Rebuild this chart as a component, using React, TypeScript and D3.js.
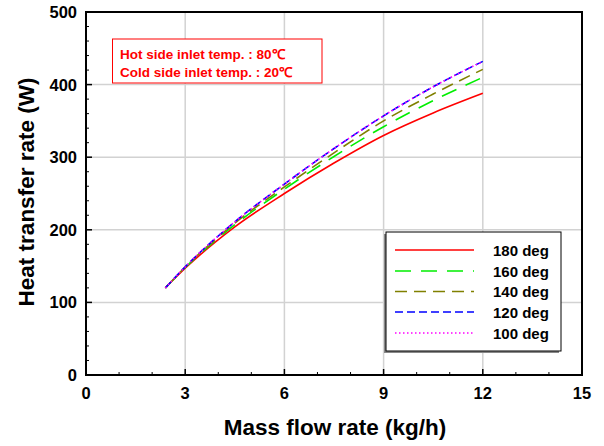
import React from "react";
import * as d3 from "d3";

const xValues = [2.4, 3, 4.5, 6, 7.5, 9, 10.5, 12];
const s180 = [120, 147, 204, 250, 292, 330, 361, 388];
const s160 = [120, 148, 207, 256, 301, 342, 378, 410];
const s140 = [120, 148.5, 209, 259, 306, 350, 387, 421];
const s120 = [120, 149, 211, 263, 312, 357, 397, 432];
const s100 = [120, 149, 211, 263, 312, 357, 397, 432];
const seriesNames = ["180 deg", "160 deg", "140 deg", "120 deg", "100 deg"];
const xTicks = [0, 3, 6, 9, 12, 15];
const yTicks = [0, 100, 200, 300, 400, 500];
const noteLines = ["Hot side inlet temp. : 80\u2103", "Cold side inlet temp. : 20\u2103"];

const styles = [
  { color: "#ff0000", dash: "none", w: 1.6 },
  { color: "#00ee00", dash: "16,10", w: 1.6 },
  { color: "#808000", dash: "12,7", w: 1.6 },
  { color: "#0000ff", dash: "8,4", w: 1.6 },
  { color: "#ff00ff", dash: "1.5,2.5", w: 1.6 },
];

export default function App() {
  const W = 604, H = 446;
  const left = 86, right = 582, top = 12, bottom = 375;
  const x = d3.scaleLinear().domain([0, 15]).range([left, right]);
  const y = d3.scaleLinear().domain([0, 500]).range([bottom, top]);
  const all = [s180, s160, s140, s120, s100];
  const line = d3
    .line<number>()
    .x((_, i) => x(xValues[i]))
    .y((d) => y(d))
    .curve(d3.curveMonotoneX);
  const xMinor = d3.range(0, 16, 1).filter((v) => v % 3 !== 0);
  const yMinor = d3.range(0, 501, 20).filter((v) => v % 100 !== 0);
  const font = "'Liberation Sans', Arial, sans-serif";
  const legX = 386, legY = 232, legW = 175, legH = 119;
  const rowY = [250, 271, 291.5, 312, 333];

  return (
    <svg width={W} height={H} style={{ position: "absolute", left: 0, top: 0 }} fontFamily={font}>
      <rect width={W} height={H} fill="#fff" />
      {/* grid */}
      {xTicks.slice(1, -1).map((t) => (
        <line key={"gx" + t} x1={x(t)} x2={x(t)} y1={top} y2={bottom} stroke="#d2d2d2" strokeWidth={1.5} />
      ))}
      {yTicks.slice(1, -1).map((t) => (
        <line key={"gy" + t} x1={left} x2={right} y1={y(t)} y2={y(t)} stroke="#d2d2d2" strokeWidth={1.5} />
      ))}
      {/* series */}
      {all.map((s, i) => (
        <path
          key={"s" + i}
          d={line(s) || ""}
          fill="none"
          stroke={styles[i].color}
          strokeWidth={styles[i].w}
          strokeDasharray={styles[i].dash}
        />
      ))}
      {/* ticks */}
      {xTicks.map((t) => (
        <line key={"tx" + t} x1={x(t)} x2={x(t)} y1={bottom} y2={bottom - 6} stroke="#000" strokeWidth={1.5} />
      ))}
      {xMinor.map((t) => (
        <line key={"mx" + t} x1={x(t)} x2={x(t)} y1={bottom} y2={bottom - 3} stroke="#000" strokeWidth={1} />
      ))}
      {yTicks.map((t) => (
        <line key={"ty" + t} x1={left} x2={left + 6} y1={y(t)} y2={y(t)} stroke="#000" strokeWidth={1.5} />
      ))}
      {yMinor.map((t) => (
        <line key={"my" + t} x1={left} x2={left + 3} y1={y(t)} y2={y(t)} stroke="#000" strokeWidth={1} />
      ))}
      {/* frame */}
      <rect x={left} y={top} width={right - left} height={bottom - top} fill="none" stroke="#000" strokeWidth={2} />
      {/* tick labels */}
      {xTicks.map((t) => (
        <text key={"lx" + t} x={x(t)} y={399} textAnchor="middle" fontSize={16.5} fontWeight="bold">
          {t}
        </text>
      ))}
      {yTicks.map((t) => (
        <text key={"ly" + t} x={77} y={y(t) + 6} textAnchor="end" fontSize={16.5} fontWeight="bold">
          {t}
        </text>
      ))}
      {/* axis titles */}
      <text x={335} y={435} textAnchor="middle" fontSize={22.5} fontWeight="bold">
        Mass flow rate (kg/h)
      </text>
      <text transform={`translate(34,192) rotate(-90)`} textAnchor="middle" fontSize={22.5} fontWeight="bold">
        Heat transfer rate (W)
      </text>
      {/* note box */}
      <rect x={112.5} y={39} width={209.5} height={44} fill="#fff" stroke="#ff0000" strokeWidth={1} />
      {noteLines.map((t, i) => (
        <text key={"n" + i} x={120} y={59 + i * 18} fill="#ff0000" fontSize={13.5} fontWeight="bold">
          {t}
        </text>
      ))}
      {/* legend */}
      <rect x={legX - 2} y={legY + 2} width={legW} height={legH} fill="#888" />
      <rect x={legX} y={legY} width={legW} height={legH} fill="#fff" stroke="#000" strokeWidth={1} />
      {seriesNames.map((n, i) => (
        <g key={"lg" + i}>
          <line
            x1={395}
            x2={474}
            y1={rowY[i]}
            y2={rowY[i]}
            stroke={styles[i].color}
            strokeWidth={styles[i].w}
            strokeDasharray={styles[i].dash}
          />
          <text x={493} y={rowY[i] + 5.5} fontSize={15} fontWeight="bold">
            {n}
          </text>
        </g>
      ))}
    </svg>
  );
}
